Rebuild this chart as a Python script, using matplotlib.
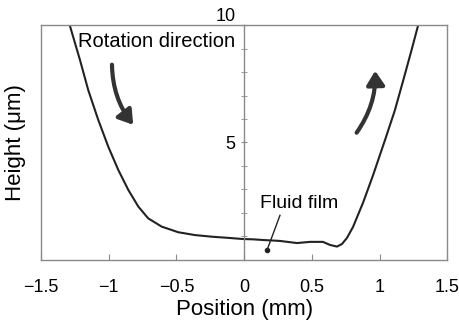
import matplotlib.pyplot as plt
from matplotlib.patches import FancyArrowPatch

plt.rcParams['font.family'] = ['Liberation Sans', 'DejaVu Sans']

# measured film profile
position = [-1.286, -1.212, -1.151, -1.077, -1.003, -0.929, -0.855, -0.781,
            -0.708, -0.609, -0.486, -0.363, -0.239, -0.116, -0.006, 0.06,
            0.14, 0.265, 0.39, 0.487, 0.583, 0.634, 0.686, 0.723, 0.760,
            0.804, 0.878, 0.952, 1.041, 1.114, 1.176, 1.237, 1.284]
height = [9.96, 8.51, 7.23, 5.96, 4.82, 3.83, 2.98, 2.27,
          1.77, 1.42, 1.18, 1.06, 0.99, 0.94, 0.89, 0.88,
          0.85, 0.81, 0.72, 0.77, 0.77, 0.64, 0.57, 0.68, 0.94,
          1.40, 2.43, 3.60, 5.11, 6.38, 7.66, 8.94, 9.96]

x_ticks = [-1.5, -1, -0.5, 0, 0.5, 1, 1.5]
x_tick_labels = ['\u22121.5', '\u22121', '\u22120.5', '0', '0.5', '1', '1.5']
y_ticks = [5, 10]

grey = '#8a8a8a'

fig = plt.figure(figsize=(4.59, 3.27), dpi=100)
ax = fig.add_axes([0.0893, 0.205, 0.885, 0.7185])

ax.plot(position, height, color='#222222', lw=1.5, solid_joinstyle='round')

ax.set_xlim(-1.5, 1.5)
ax.set_ylim(0, 10)

for side in ['top', 'right', 'bottom', 'left']:
    ax.spines[side].set_color(grey)
    ax.spines[side].set_linewidth(1.0)
ax.spines['left'].set_position(('data', 0))
ax.axvline(-1.5, color=grey, lw=1.0, clip_on=False)

ax.set_xticks(x_ticks)
ax.set_xticklabels(x_tick_labels, fontsize=13)
ax.tick_params(axis='x', direction='in', length=4, color=grey, pad=14)

ax.set_yticks(y_ticks)
ax.set_yticks(range(1, 10), minor=True)
ax.set_yticklabels([str(v) for v in y_ticks], fontsize=13)
ax.tick_params(axis='y', which='both', direction='inout', length=4,
               color=grey, pad=4)
ax.get_yticklabels()[-1].set_verticalalignment('bottom')

ax.set_xlabel('Position (mm)', fontsize=16, labelpad=2)
ax.set_ylabel('Height (\u03bcm)', fontsize=16)
ax.yaxis.set_label_coords(-0.038, 0.5)

ax.text(-1.225, 9.3, 'Rotation direction', fontsize=14.5, ha='left',
        va='center')
ax.text(0.405, 2.4, 'Fluid film', fontsize=14, ha='center', va='center')
ax.plot([0.265, 0.17], [1.9, 0.43], color='#222222', lw=1.0)
ax.plot([0.17], [0.43], 'o', color='#222222', ms=3)

arrow_style = dict(arrowstyle='-|>,head_length=0.7,head_width=0.45',
                   color='#333333', lw=3.0, mutation_scale=12)
ax.add_patch(FancyArrowPatch((-0.976, 8.43), (-0.806, 5.66),
                             connectionstyle='arc3,rad=0.18', **arrow_style))
ax.add_patch(FancyArrowPatch((0.819, 5.32), (0.967, 8.17),
                             connectionstyle='arc3,rad=0.18', **arrow_style))

fig.savefig('out.png', dpi=100)
